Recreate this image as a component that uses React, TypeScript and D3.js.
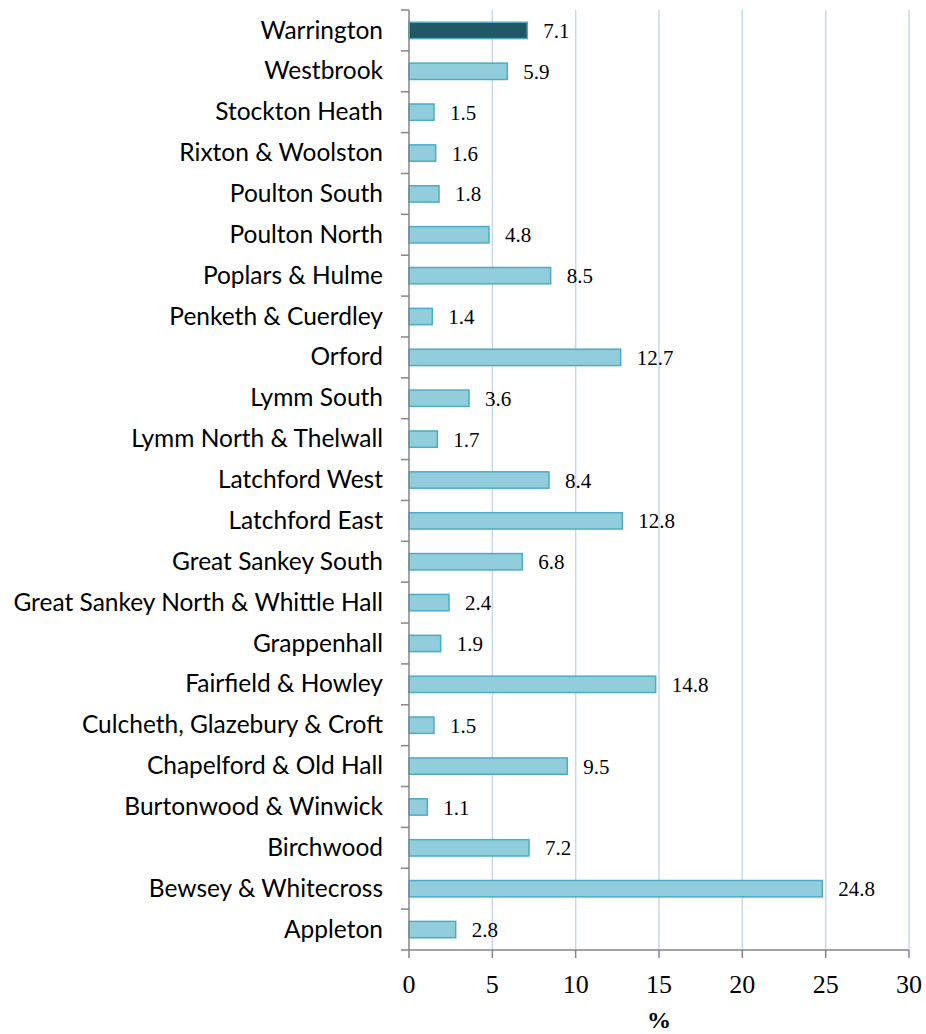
import React from "react";
import * as d3 from "d3";

const categories = [
  "Warrington", "Westbrook", "Stockton Heath", "Rixton & Woolston", "Poulton South",
  "Poulton North", "Poplars & Hulme", "Penketh & Cuerdley", "Orford", "Lymm South",
  "Lymm North & Thelwall", "Latchford West", "Latchford East", "Great Sankey South",
  "Great Sankey North & Whittle Hall", "Grappenhall", "Fairfield & Howley",
  "Culcheth, Glazebury & Croft", "Chapelford & Old Hall", "Burtonwood & Winwick",
  "Birchwood", "Bewsey & Whitecross", "Appleton",
];
const values = [7.1, 5.9, 1.5, 1.6, 1.8, 4.8, 8.5, 1.4, 12.7, 3.6, 1.7, 8.4, 12.8, 6.8, 2.4, 1.9, 14.8, 1.5, 9.5, 1.1, 7.2, 24.8, 2.8];
const xTicks = [0, 5, 10, 15, 20, 25, 30];
const highlight = "Warrington";

export default function App() {
  const W = 926, H = 1034;
  const left = 409, right = 909, top = 10, bottom = 950;
  const x = d3.scaleLinear().domain([0, 30]).range([left, right]);
  const y = d3.scaleBand().domain(categories).range([top, bottom]).paddingInner(0.6).paddingOuter(0.3);
  const bandStep = (bottom - top) / categories.length;
  return (
    <svg width={W} height={H} style={{ position: "absolute", left: 0, top: 0 }}>
      <rect width={W} height={H} fill="#fff" />
      {xTicks.filter(t => t > 0).map(t => (
        <line key={t} x1={x(t)} x2={x(t)} y1={top} y2={bottom} stroke="#c8d8ec" strokeWidth={1.5} />
      ))}
      {categories.map((c, i) => {
        const v = values[i];
        const yy = y(c)!;
        const cy = yy + y.bandwidth() / 2;
        return (
          <g key={c}>
            <rect x={x(0)} y={yy} width={x(v) - x(0)} height={y.bandwidth()}
              fill={c === highlight ? "#215868" : "#92cddc"} stroke="#4bacc6" strokeWidth={1.5} />
            <text x={x(v) + 16} y={cy} dy="0.36em" fontFamily="Liberation Serif, serif" fontSize={21} fill="#000">{v.toFixed(1)}</text>
            <text x={383} y={cy} dy="0.33em" textAnchor="end" fontFamily="Lato, sans-serif" fontSize={24.5} fill="#000">{c}</text>
          </g>
        );
      })}
      {/* y axis */}
      <line x1={left} x2={left} y1={top} y2={bottom} stroke="#868686" strokeWidth={1.5} />
      {d3.range(categories.length + 1).map(i => (
        <line key={i} x1={left - 8} x2={left} y1={top + i * bandStep} y2={top + i * bandStep} stroke="#868686" strokeWidth={1.5} />
      ))}
      {/* x axis */}
      <line x1={left} x2={right} y1={bottom} y2={bottom} stroke="#868686" strokeWidth={1.5} />
      {xTicks.map(t => (
        <g key={t}>
          <line x1={x(t)} x2={x(t)} y1={bottom} y2={bottom + 8} stroke="#868686" strokeWidth={1.5} />
          <text x={x(t)} y={993} textAnchor="middle" fontFamily="Liberation Serif, serif" fontSize={26} fill="#000">{t}</text>
        </g>
      ))}
      <text x={(left + right) / 2} y={1028} textAnchor="middle" fontFamily="Liberation Serif, serif" fontWeight="bold" fontSize={24} fill="#000">%</text>
    </svg>
  );
}
